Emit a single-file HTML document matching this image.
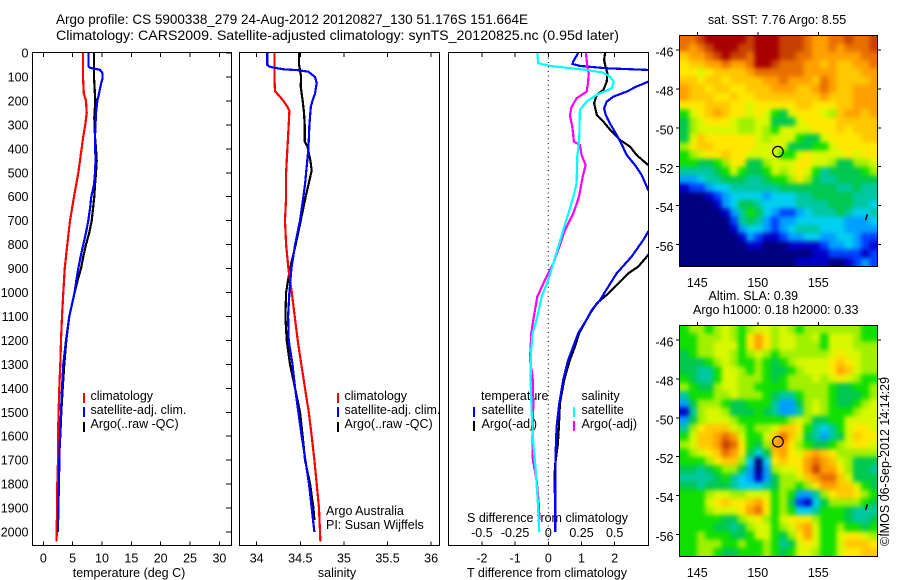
<!DOCTYPE html>
<html lang="en">
<head>
<meta charset="utf-8">
<title>Argo profile</title>
<style>
html,body{margin:0;padding:0;background:#fff;}
svg{display:block;font-family:"Liberation Sans",sans-serif;fill:#000;}
text{font-size:12.5px;}
.t14{font-size:14px;}
</style>
</head>
<body>
<svg id="chart" xmlns="http://www.w3.org/2000/svg" width="900" height="580" viewBox="0 0 900 580">
<text class="t14" x="56" y="24" textLength="472" lengthAdjust="spacingAndGlyphs">Argo profile: CS 5900338_279 24-Aug-2012 20120827_130 51.176S 151.664E</text>
<text class="t14" x="56" y="40" textLength="563" lengthAdjust="spacingAndGlyphs">Climatology: CARS2009. Satellite-adjusted climatology: synTS_20120825.nc (0.95d later)</text>
<text x="129" y="577" text-anchor="middle">temperature (deg C)</text>
<text x="337" y="577" text-anchor="middle">salinity</text>
<text x="547" y="577" text-anchor="middle">T difference from climatology</text>
<text x="547.5" y="522" text-anchor="middle">S difference from climatology</text>
<text x="90.5" y="400">climatology</text>
<text x="90.5" y="414">satellite-adj. clim.</text>
<text x="90.5" y="428">Argo(..raw -QC)</text>
<text x="344.5" y="400">climatology</text>
<text x="344.5" y="414">satellite-adj. clim.</text>
<text x="344.5" y="428">Argo(..raw -QC)</text>
<text x="326" y="515">Argo Australia</text>
<text x="326" y="529">PI: Susan Wijffels</text>
<text x="481" y="400">temperature</text>
<text x="481.5" y="414">satellite</text>
<text x="481.5" y="428">Argo(-adj)</text>
<text x="581.5" y="400">salinity</text>
<text x="581.5" y="414">satellite</text>
<text x="581.5" y="428">Argo(-adj)</text>
<text x="777" y="24" text-anchor="middle">sat. SST: 7.76 Argo: 8.55</text>
<text x="708.5" y="300">Altim. SLA: 0.39</text>
<text x="693" y="314">Argo h1000: 0.18 h2000: 0.33</text>
<text transform="translate(889,546) rotate(-90)">©IMOS 06-Sep-2012 14:14:29</text>
</svg>
<script>
// depth axis ticks and panel tick labels
const depthTicks = [0,100,200,300,400,500,600,700,800,900,1000,1100,1200,1300,1400,1500,1600,1700,1800,1900,2000];
const tempTicks = [0,5,10,15,20,25,30];
const salTicks = [34,34.5,35,35.5,36];
const salTickLabels = ['34','34.5','35','35.5','36'];
const tDiffTicks = [-2,-1,0,1,2];
const sDiffTicks = [-0.5,-0.25,0,0.25,0.5];
const sDiffTickLabels = ['-0.5','-0.25','0','0.25','0.5'];
const lonTicks = [145,150,155];
const latTicks = [-46,-48,-50,-52,-54,-56];

// temperature profiles
const climTDepth = [0,100,170,200,250,300,350,400,500,600,700,800,900,1000,1100,1200,1300,1400,1500,1600,1700,1800,1900,2040];
const climTValue = [6.76,6.76,6.9,7.27,7.39,7.16,6.8,6.53,5.97,5.23,4.55,4.09,3.64,3.41,3.18,3.01,2.9,2.73,2.61,2.5,2.5,2.39,2.33,2.27];
const satTDepth = [0,55,62,70,85,105,130,170,200,250,350,450,500,550,600,650,700,750,800,850,900,950,1000,1100,1200,1300,1400,1500,1600,1700,1800,1900,2000];
const satTValue = [7.7,7.7,7.95,9.66,10.1,10.1,9.83,9.49,9.2,8.98,8.8,8.9,8.8,8.64,8.18,7.95,7.67,7.27,6.82,6.36,5.97,5.63,5.34,4.43,3.86,3.41,3.18,3.01,2.84,2.73,2.67,2.56,2.5];
const argoTDepth = [0,100,200,270,350,400,450,500,550,600,650,700,750,800,850,900,950,1000,1100,1200,1300,1400,1500,1600,1700,1800,1900,2000];
const argoTValue = [8.64,8.64,8.86,8.69,8.8,8.98,9.09,8.98,8.8,8.69,8.47,8.24,7.84,7.27,6.82,6.42,5.85,5.34,4.43,3.92,3.58,3.3,3.07,2.9,2.61,2.56,2.56,2.5];

// salinity profiles
const climSDepth = [0,100,160,175,200,225,240,300,400,500,600,700,800,900,1000,1100,1200,1300,1400,1500,1600,1700,1800,1900,2040];
const climSValue = [34.203,34.203,34.21,34.249,34.306,34.352,34.375,34.367,34.352,34.337,34.337,34.325,34.337,34.363,34.402,34.436,34.47,34.512,34.554,34.597,34.631,34.662,34.688,34.715,34.73];
const satSDepth = [0,50,58,68,72,78,100,125,170,200,225,300,400,500,550,600,700,800,900,1000,1100,1200,1300,1400,1500,1600,1700,1800,1900,2000];
const satSValue = [34.122,34.122,34.153,34.306,34.478,34.593,34.669,34.688,34.669,34.639,34.62,34.604,34.593,34.566,34.554,34.535,34.497,34.44,34.398,34.375,34.36,34.367,34.41,34.44,34.478,34.516,34.558,34.6,34.631,34.662];
const argoSDepth = [0,50,100,140,170,200,250,300,370,390,450,490,520,600,700,800,900,1000,1100,1200,1300,1400,1500,1600,1700,1800,1900,1950];
const argoSValue = [34.486,34.486,34.509,34.505,34.516,34.528,34.543,34.551,34.551,34.581,34.616,34.631,34.612,34.562,34.505,34.447,34.382,34.337,34.329,34.344,34.382,34.44,34.497,34.528,34.554,34.612,34.65,34.662];

// difference profiles
const satDTDepth = [0,36,46,54,64,74,95,120,140,161,182,203,231,259,300,342,384,426,468,509,572,650,746,781,850,920,975,1031,1073,1114,1170,1226,1282,1365,1463,1560,1672,1810,2000];
const satDTValue = [0.9,0.75,0.73,0.95,1.76,3.6,3.7,3.01,2.66,2.36,1.96,1.76,1.68,1.73,1.88,2.06,2.22,2.36,2.61,2.81,3.01,3.5,3.01,2.86,2.51,2.06,1.81,1.56,1.31,1.15,0.9,0.75,0.6,0.45,0.33,0.25,0.22,0.21,0.21];
const argoDTDepth = [0,29,50,85,120,154,175,210,259,287,328,363,391,426,468,500,650,800,843,892,920,962,1004,1045,1087,1114,1170,1226,1282,1365,1463,1560,1630,1727,1838];
const argoDTValue = [1.71,1.68,1.71,1.78,1.76,1.66,1.46,1.38,1.46,1.66,1.91,2.16,2.46,2.66,3.01,3.3,3.6,3.2,3.01,2.71,2.41,2.11,1.81,1.46,1.26,1.15,0.93,0.8,0.65,0.48,0.35,0.32,0.29,0.2,0.19];
const satDSDepth = [0,43,54,71,82,99,120,148,175,203,238,363,433,544,600,670,739,809,878,948,1017,1115,1170,1254,1365,1504,1630,1741,1867,2000];
const satDSValue = [-0.083,-0.075,0.013,0.289,0.414,0.464,0.494,0.477,0.364,0.289,0.238,0.233,0.218,0.213,0.188,0.151,0.113,0.075,0.038,0,-0.05,-0.088,-0.118,-0.131,-0.133,-0.125,-0.113,-0.095,-0.08,-0.068];
const argoDSDepth = [0,57,85,126,161,189,224,259,308,370,384,426,468,517,600,670,739,809,878,948,1017,1115,1170,1282,1351,1463,1588,1692,1783,1894,1950];
const argoDSValue = [0.284,0.294,0.304,0.299,0.289,0.213,0.176,0.163,0.181,0.193,0.238,0.251,0.281,0.259,0.231,0.188,0.126,0.083,0.038,-0.025,-0.083,-0.113,-0.128,-0.138,-0.118,-0.113,-0.118,-0.118,-0.088,-0.07,-0.068];

// heatmap colour levels, 16-step palette
const heatPalette = ['#000080','#0000c8','#0040ff','#00a0ff','#00d0f0','#00c8a0','#00c850','#10e000','#a0f000','#d8f800','#ffe800','#ffc800','#ffa000','#e87000','#c84000','#a80000'];
const sstGrid = [
[13,13,14,15,15,15,15,15,14,15,15,15,14,14,14,13,12,12,13,13,14,13,13,14],
[13,12,13,14,15,15,15,14,14,15,15,15,14,14,14,13,12,12,13,12,13,13,13,14],
[11,12,12,13,14,15,14,14,13,15,15,15,14,14,13,13,12,12,12,12,12,12,13,13],
[10,11,11,12,12,13,12,12,13,15,15,14,13,13,13,12,12,11,12,11,11,12,12,13],
[10,10,9,10,11,11,11,11,12,13,13,13,13,13,13,12,12,12,12,11,11,11,12,12],
[11,11,10,11,11,10,11,11,11,11,12,12,13,12,12,12,11,13,12,11,11,11,11,12],
[12,11,11,10,11,11,10,10,11,11,11,12,12,12,11,11,12,13,12,11,11,12,12,12],
[12,11,11,11,10,10,11,10,10,11,11,11,11,11,11,11,11,12,11,11,11,12,12,12],
[10,10,10,11,11,11,10,10,9,10,10,10,10,10,11,11,10,10,10,11,11,12,12,12],
[7,9,10,11,12,11,10,10,9,10,9,7,6,9,10,10,10,9,8,11,12,12,11,12],
[6,8,9,10,10,10,9,8,8,9,9,6,6,6,9,10,10,10,10,11,11,11,11,11],
[6,8,9,9,9,9,9,8,8,9,8,7,9,9,9,9,10,10,10,11,10,11,11,11],
[6,9,11,10,10,10,10,10,10,9,8,9,9,9,7,6,6,9,10,10,10,10,11,11],
[8,10,11,11,10,10,10,10,10,9,9,9,9,6,6,6,7,7,9,10,10,10,10,10],
[7,8,9,10,10,11,10,10,9,9,9,9,7,7,9,10,9,9,9,9,10,9,10,10],
[7,7,6,6,7,8,10,10,6,6,8,9,9,9,10,10,9,9,8,6,6,8,8,9],
[5,5,5,5,6,7,9,7,6,6,7,9,8,9,10,9,7,5,6,6,6,6,7,8],
[3,3,4,5,5,6,6,6,5,5,6,7,7,8,10,8,6,5,5,6,6,6,6,6],
[1,2,2,3,4,4,5,5,5,5,5,5,6,6,6,6,6,6,6,5,5,6,5,5],
[0,0,0,1,2,3,4,4,4,4,3,4,4,4,5,5,6,6,6,6,6,5,5,5],
[0,0,0,0,1,3,4,6,6,5,4,4,4,4,5,5,5,5,6,6,6,5,5,4],
[0,0,0,0,0,1,3,5,7,6,4,3,2,2,3,4,5,5,5,6,5,4,4,5],
[0,0,0,0,0,0,2,5,6,5,3,2,3,3,4,4,4,4,4,4,3,3,3,4],
[0,0,0,0,0,0,1,3,4,4,3,2,3,4,5,5,5,4,4,4,3,3,3,3],
[0,0,0,0,0,0,0,1,3,2,1,1,2,3,3,4,4,3,3,4,4,3,2,2],
[0,0,0,0,0,0,0,0,1,1,0,0,0,1,1,1,1,2,3,3,4,3,2,1],
[0,0,0,0,0,0,0,0,0,0,0,0,0,0,0,0,1,1,2,2,2,2,1,2],
[0,0,0,0,0,0,0,0,0,0,0,0,0,0,1,1,1,1,0,0,1,2,3,2]
];
const slaGrid = [
[7,8,8,7,8,9,8,7,8,9,9,8,9,8,7,8,8,8,8,8,8,8,7,7],
[7,7,8,8,8,9,8,7,10,12,10,8,9,9,8,8,9,7,9,9,9,8,7,7],
[7,7,8,8,9,9,9,7,10,12,10,8,9,9,8,8,8,7,9,9,9,8,8,8],
[6,7,8,8,9,9,8,7,8,9,8,7,8,8,8,8,8,8,9,10,9,9,8,8],
[6,6,6,7,8,9,8,7,7,8,7,6,7,8,9,9,9,9,10,11,10,9,8,8],
[6,6,5,5,7,9,9,8,7,8,7,6,6,7,8,9,9,9,10,12,11,9,8,8],
[7,6,5,5,7,9,9,8,8,8,7,6,7,8,8,8,9,8,9,10,9,8,7,7],
[8,7,6,6,8,9,9,8,8,7,7,7,7,8,8,8,8,8,7,6,6,7,7,8],
[5,7,7,7,8,8,9,8,8,8,7,6,5,5,7,8,8,8,7,6,6,6,7,8],
[3,6,8,8,8,7,6,6,7,7,7,5,3,3,6,8,9,8,7,6,6,7,8,9],
[1,5,8,9,9,8,6,6,6,7,6,5,3,3,5,8,9,8,7,7,7,8,9,9],
[3,6,8,9,9,9,8,7,7,7,7,7,7,8,9,8,6,6,7,7,9,9,9,9],
[5,8,10,11,11,11,9,8,7,8,8,9,11,11,10,7,5,4,5,7,9,10,10,9],
[7,9,11,11,12,13,12,9,7,7,9,11,13,11,9,6,5,3,5,6,9,11,10,10],
[8,9,11,11,12,14,13,10,7,6,8,12,12,10,8,7,6,6,7,8,9,10,10,9],
[7,8,9,10,11,13,12,10,6,4,6,11,12,10,9,11,12,11,10,8,8,8,8,8],
[7,7,7,8,10,11,11,8,4,0,4,10,11,10,10,12,13,12,11,9,8,6,6,6],
[6,6,5,6,7,8,8,6,3,0,3,8,9,9,10,12,14,12,12,10,8,6,6,5],
[5,5,5,5,6,7,5,4,3,1,3,6,8,8,9,11,12,13,13,11,9,6,6,6],
[6,6,5,6,6,6,5,4,4,4,5,6,8,8,7,8,10,12,12,11,11,9,7,6],
[7,7,7,8,9,9,8,8,9,9,9,7,8,7,3,3,5,8,10,11,11,10,8,7],
[7,7,7,9,10,11,10,10,11,12,10,7,8,6,2,1,4,6,8,8,8,8,7,6],
[7,7,7,8,9,9,9,10,12,13,10,7,8,7,4,4,5,7,7,7,6,5,5,5],
[7,7,7,7,7,6,6,8,9,10,8,7,9,10,10,10,8,7,7,7,6,5,5,6],
[7,7,7,7,6,6,5,6,8,9,9,7,8,9,11,12,9,7,7,8,7,7,6,7],
[7,7,8,7,7,7,6,6,7,9,9,7,6,8,10,12,9,7,7,9,10,10,9,8],
[7,7,8,8,8,7,7,8,7,7,8,7,5,6,9,10,9,7,7,9,11,11,11,10],
[7,7,8,8,7,6,6,7,7,7,8,7,6,7,9,9,8,7,7,9,10,10,11,11]
];
const profileLon = [151.664];
const profileLat = [-51.176];
const floatTrackLon = [158.9,159.05];
const floatTrackLat = [-54.75,-54.45];

// axis functions
const PANEL_TOP = 53, PANEL_BOTTOM = 545.5;
const yDepth = d => 53 + d * 0.2395;
const xTemp = v => 43.3 + v * 5.87;
const xSal = v => 256.7 + (v - 34) * 87.2;
const xTDiff = v => 548.3 + v * 33.2;
const xSDiff = v => 548.3 + v * 132.8;
const xLon = v => 697.3 + (v - 145) * 12.1;
const yLat = (v, top) => top + 15 + (-46 - v) * 19.45;
const LON_START = 143.62, LON_STEP = 0.678, LAT_START = -45.23, LAT_STEP = 0.4245;

const svg = document.getElementById('chart');
const NS = 'http://www.w3.org/2000/svg';
function shape(tag, attrs, parent) {
  const el = document.createElementNS(NS, tag);
  for (const k in attrs) el.setAttribute(k, attrs[k]);
  (parent || svg).appendChild(el);
  return el;
}
function group(attrs) { return shape('g', attrs || {}); }
function label(str, x, y, anchor, size, parent) {
  const el = shape('text', {x: x, y: y, 'text-anchor': anchor || 'start'}, parent);
  if (size) el.style.fontSize = size + 'px';
  el.textContent = str;
  return el;
}
function seg(x1, y1, x2, y2, color, w, parent) {
  return shape('line', {x1: x1, y1: y1, x2: x2, y2: y2, stroke: color, 'stroke-width': w, 'shape-rendering': 'crispEdges'}, parent);
}

const defs = shape('defs', {});
[['clip-temp',32.5,53,199,492.5],['clip-sal',239.5,53,200,492.5],['clip-diff',448.5,53,200,492.5],['clip-sst',680,36,198,231],['clip-sla',680,326,198,231]].forEach(c => {
  const cp = shape('clipPath', {id: c[0]}, defs);
  shape('rect', {x: c[1], y: c[2], width: c[3], height: c[4]}, cp);
});
const soften = shape('filter', {id: 'soften', x: '-5%', y: '-5%', width: '110%', height: '110%', 'color-interpolation-filters': 'sRGB'}, defs);
shape('feGaussianBlur', {stdDeviation: 2.4}, soften);
const softenAlpha = shape('feComponentTransfer', {}, soften);
shape('feFuncA', {type: 'linear', slope: 50, intercept: 0}, softenAlpha);

function profile(depths, values, xFn, color, clip, name) {
  const pts = depths.map((d, i) => xFn(values[i]).toFixed(1) + ',' + yDepth(d).toFixed(1)).join(' ');
  const line = shape('polyline', {points: pts, fill: 'none', stroke: color, 'stroke-width': 2.2, 'shape-rendering': 'crispEdges', 'clip-path': 'url(#' + clip + ')'});
  
  
}

// depth-profile panels
function drawPanel(left, width, ticks, tickLabels, xFn, name) {
  const g = group();
  
  
  ticks.forEach(t => {
    seg(xFn(t), PANEL_TOP, xFn(t), PANEL_TOP + 4, '#000', 1, g);
    seg(xFn(t), PANEL_BOTTOM - 4, xFn(t), PANEL_BOTTOM, '#000', 1, g);
  });
  shape('rect', {x: left + 0.5, y: 52.5, width: width, height: 493, fill: 'none', stroke: '#000', 'stroke-width': 1.2, 'shape-rendering': 'crispEdges'}, g);
  if (tickLabels) {
    ticks.forEach((t, i) => label(tickLabels[i], xFn(t), 562.5, 'middle', 12.5, g));
  }
}
drawPanel(32, 199, tempTicks, tempTicks.map(String), xTemp, 'temperature-panel');
drawPanel(239, 200, salTicks, salTickLabels, xSal, 'salinity-panel');
drawPanel(448, 200, tDiffTicks, tDiffTicks.map(String), xTDiff, 'difference-panel');

// depth ticks
const depthAxis = group();


depthTicks.forEach(d => {
  label(String(d), 28.5, yDepth(d) + 4.5, 'end', 12.5, depthAxis);
  seg(226, yDepth(d), 231, yDepth(d), '#000', 1, depthAxis);
});

// dotted zero line
const zeroLine = shape('line', {x1: xTDiff(0), y1: PANEL_TOP, x2: xTDiff(0), y2: PANEL_BOTTOM, stroke: '#000', 'stroke-width': 1, 'stroke-dasharray': '1 3.5'});



// series
profile(argoTDepth, argoTValue, xTemp, '#000', 'clip-temp', 'temperature-argo-line');
profile(climTDepth, climTValue, xTemp, '#f00', 'clip-temp', 'temperature-climatology-line');
profile(satTDepth, satTValue, xTemp, '#00f', 'clip-temp', 'temperature-satellite-line');
profile(argoSDepth, argoSValue, xSal, '#000', 'clip-sal', 'salinity-argo-line');
profile(climSDepth, climSValue, xSal, '#f00', 'clip-sal', 'salinity-climatology-line');
profile(satSDepth, satSValue, xSal, '#00f', 'clip-sal', 'salinity-satellite-line');
profile(argoDTDepth, argoDTValue, xTDiff, '#000', 'clip-diff', 't-diff-argo-line');
profile(satDTDepth, satDTValue, xTDiff, '#00f', 'clip-diff', 't-diff-satellite-line');
profile(argoDSDepth, argoDSValue, xSDiff, '#f0f', 'clip-diff', 's-diff-argo-line');
profile(satDSDepth, satDSValue, xSDiff, '#0ff', 'clip-diff', 's-diff-satellite-line');

// S difference tick labels
const sAxis = group();


sDiffTicks.forEach((t, i) => label(sDiffTickLabels[i], xSDiff(t), 537, 'middle', 12.5, sAxis));

// legend swatches
[[84,393,403,'#f00','legend-swatch-t-clim'],[84,407,417,'#00f','legend-swatch-t-sat'],[84,422,432,'#000','legend-swatch-t-argo'],
 [338,393,403,'#f00','legend-swatch-s-clim'],[338,407,417,'#00f','legend-swatch-s-sat'],[338,422,432,'#000','legend-swatch-s-argo'],
 [474,407,417,'#00f','legend-swatch-dt-sat'],[474,421,431,'#000','legend-swatch-dt-argo'],
 [574,407,417,'#0ff','legend-swatch-ds-sat'],[574,421,431,'#f0f','legend-swatch-ds-argo']].forEach(s => {
  const sw = seg(s[0], s[1], s[0], s[2], s[3], 2);
  
  
});

// maps
function drawMap(grid, top, clip, name) {
  const g = group();
  
  
  const clipper = shape('g', {'clip-path': 'url(#' + clip + ')'}, g);
  const cells = shape('g', {filter: 'url(#soften)'}, clipper);
  grid.forEach((row, r) => {
    row.forEach((level, c) => {
      const x0 = xLon(LON_START + c * LON_STEP), x1 = xLon(LON_START + (c + 1) * LON_STEP);
      const y0 = yLat(LAT_START - r * LAT_STEP, top), y1 = yLat(LAT_START - (r + 1) * LAT_STEP, top);
      const cell = shape('rect', {x: x0.toFixed(2), y: y0.toFixed(2), width: (x1 - x0 + 0.6).toFixed(2), height: (y1 - y0 + 0.6).toFixed(2), fill: heatPalette[level], 'shape-rendering': 'crispEdges'}, cells);
      
      
    });
  });
  shape('rect', {x: 679.5, y: top + 0.5, width: 198, height: 231, fill: 'none', stroke: '#000', 'stroke-width': 1.2, 'shape-rendering': 'crispEdges'}, g);
  lonTicks.forEach(l => {
    seg(xLon(l), top - 3, xLon(l), top, '#000', 1, g);
    label(String(l), xLon(l), top + 252, 'middle', 12.5, g);
  });
  latTicks.forEach(l => {
    const y = yLat(l, top);
    seg(676, y, 679, y, '#000', 1, g);
    seg(878, y, 881, y, '#000', 1, g);
    label(String(l), 673.5, y + 6.5, 'end', 12.5, g);
  });
  const mark = shape('circle', {cx: xLon(profileLon[0]), cy: yLat(profileLat[0], top) + 1, r: 5.3, fill: 'none', stroke: '#000', 'stroke-width': 1.2}, g);
  
  
  const track = shape('line', {x1: xLon(floatTrackLon[0]), y1: yLat(floatTrackLat[0], top), x2: xLon(floatTrackLon[1]), y2: yLat(floatTrackLat[1], top), stroke: '#000', 'stroke-width': 1.5}, g);
  
  
}
drawMap(sstGrid, 35, 'clip-sst', 'sst-map');
drawMap(slaGrid, 325, 'clip-sla', 'sla-map');
</script>
</body>
</html>
